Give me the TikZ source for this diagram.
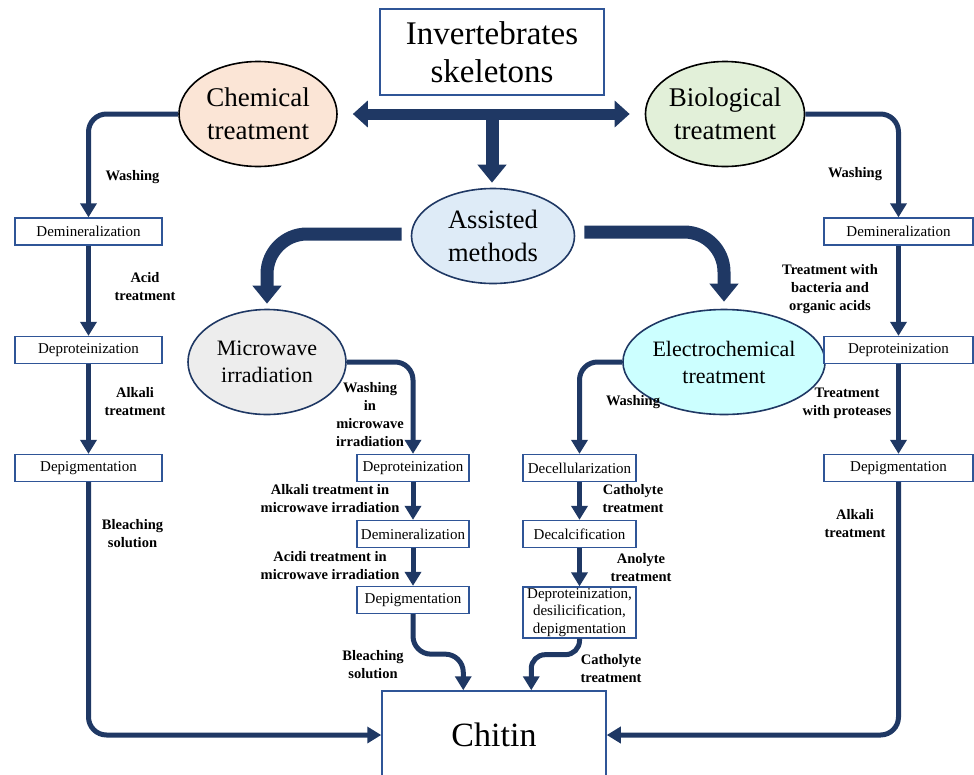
\documentclass[tikz,border=0pt]{standalone}
\usepackage{fontspec}
\setmainfont{Liberation Serif}
\usetikzlibrary{shapes.geometric,arrows.meta,positioning,calc}
\definecolor{navyline}{RGB}{31,56,100}
\definecolor{boxline}{RGB}{47,85,151}
\definecolor{chemfill}{RGB}{251,229,214}
\definecolor{biofill}{RGB}{226,240,217}
\definecolor{assistfill}{RGB}{222,235,247}
\definecolor{microfill}{RGB}{237,237,237}
\definecolor{electrofill}{RGB}{204,255,255}

\begin{document}
\begin{tikzpicture}[x=1pt, y=-1pt,
    oval/.style={ellipse, draw=navyline, line width=1.6pt, inner sep=0pt, align=center,
        minimum width=158pt, minimum height=105pt, font=\fontsize{27}{33}\selectfont},
    stepbox/.style={draw=boxline, line width=1.3pt, fill=white, inner sep=0pt, align=center,
        minimum height=27pt, font=\fontsize{15}{17.5}\selectfont},
    note/.style={font=\fontsize{14.5}{18}\selectfont\bfseries, align=center, inner sep=0pt},
    flow/.style={-{Triangle[length=14pt,width=16pt]}, line width=5pt, draw=navyline, rounded corners=18pt},
    bigflow/.style={-{Triangle[length=18pt,width=28pt]}, line width=13pt, draw=navyline, rounded corners=40pt}]
        \useasboundingbox (0,0) rectangle (974,774);

        % Source and main branches
        \node[draw=boxline, line width=1.5pt, minimum width=224pt, minimum height=86pt, align=center,
            font=\fontsize{33}{38}\selectfont] (skel) at (492,52) {Invertebrates\\skeletons};
        \node[oval, draw=black, fill=chemfill] (chem) at (258,114) {Chemical\\treatment};
        \node[oval, draw=black, fill=biofill] (bio) at (725,114) {Biological\\treatment};
        \node[oval, fill=assistfill, minimum width=163pt, minimum height=95pt, font=\fontsize{26.5}{33}\selectfont] (assist) at (493,236) {Assisted\\methods};
        \node[oval, fill=microfill, font=\fontsize{22}{27}\selectfont] (micro) at (267,362) {Microwave\\irradiation};
        \node[oval, fill=electrofill, font=\fontsize{22}{27}\selectfont] (electro) at (724,362) {Electrochemical\\treatment};

        % Product
        \node[draw=boxline, line width=1.5pt, minimum width=224pt, minimum height=88pt,
            font=\fontsize{34}{40}\selectfont] (chitin) at (494,735) {Chitin};

        % Chemical column
        \node[stepbox, minimum width=147pt] (ldemin) at (88.5,231.5) {Demineralization};
        \node[stepbox, minimum width=147pt] (ldeprot) at (88.5,350) {Deproteinization};
        \node[stepbox, minimum width=147pt] (ldepig) at (88.5,468) {Depigmentation};

        % Biological column
        \node[stepbox, minimum width=149pt] (rdemin) at (898.5,231.5) {Demineralization};
        \node[stepbox, minimum width=149pt] (rdeprot) at (898.5,350) {Deproteinization};
        \node[stepbox, minimum width=149pt] (rdepig) at (898.5,468) {Depigmentation};

        % Microwave column
        \node[stepbox, minimum width=112pt] (mdeprot) at (413,468) {Deproteinization};
        \node[stepbox, minimum width=112pt] (mdemin) at (413,534) {Demineralization};
        \node[stepbox, minimum width=112pt] (mdepig) at (413,600) {Depigmentation};

        % Electrochemical column
        \node[stepbox, minimum width=113pt] (edecell) at (579.5,468) {Decellularization};
        \node[stepbox, minimum width=113pt] (edecalc) at (579.5,534) {Decalcification};
        \node[stepbox, minimum width=113pt, minimum height=51pt] (edeprot) at (579.5,612.5) {Deproteinization,\\desilicification,\\depigmentation};

        % Thick arrows
        \draw[bigflow, {Triangle[length=15pt,width=26pt]}-{Triangle[length=15pt,width=26pt]}, line width=11pt,
            shorten <=15pt, shorten >=15pt] (chem.east) -- (bio.west);
        \draw[bigflow] ([yshift=-19pt]skel.south) -- ([yshift=5pt]skel.south |- assist.north);
        \draw[bigflow] ([xshift=-9pt,yshift=2pt]assist.west) -| ([yshift=5pt]micro.north);
        \draw[bigflow] ([xshift=9pt,yshift=4pt]assist.east) -| ([yshift=7pt]electro.north);

        % Chemical route
        \draw[flow] (chem.west) -| (ldemin.north);
        \draw[flow] (ldemin) -- (ldeprot);
        \draw[flow] (ldeprot) -- (ldepig);
        \draw[flow] (ldepig.south) |- (chitin.west);
        \node[note] (lwash) at (132.5,177) {Washing};
        \node[note] (lacid) at (145,287) {Acid\\treatment};
        \node[note] (lalk) at (135,402) {Alkali\\treatment};
        \node[note] (lbleach) at (132.5,534) {Bleaching\\solution};

        % Biological route
        \draw[flow] (bio.east) -| (rdemin.north);
        \draw[flow] (rdemin) -- (rdeprot);
        \draw[flow] (rdeprot) -- (rdepig);
        \draw[flow] (rdepig.south) |- (chitin.east);
        \node[note] (rwash) at (855,174) {Washing};
        \node[note] (rbact) at (830,289) {Treatment with\\bacteria and\\organic acids};
        \node[note] (rprot) at (847,403) {Treatment\\with proteases};
        \node[note] (ralk) at (855,524) {Alkali\\treatment};

        % Microwave route
        \draw[flow] (micro.east) -| (mdeprot.north);
        \draw[flow] (mdeprot) -- (mdemin);
        \draw[flow] (mdemin) -- (mdepig);
        \draw[flow] (mdepig.south) -- ++(0,40) -| ([xshift=82pt]chitin.north west);
        \node[note] (mwash) at (370,415) {Washing\\in\\microwave\\irradiation};
        \node[note] (malk) at (330,499) {Alkali treatment in\\microwave irradiation};
        \node[note] (macid) at (330,566) {Acidi treatment in\\microwave irradiation};
        \node[note] (mbleach) at (373,665) {Bleaching\\solution};

        % Electrochemical route
        \draw[flow] (electro.west) -| (edecell.north);
        \draw[flow] (edecell) -- (edecalc);
        \draw[flow] (edecalc) -- (edeprot);
        \draw[flow, rounded corners=14pt] (edeprot.south) -- ++(0,16) -| ([xshift=150pt]chitin.north west);
        \node[note] (ewash) at (633,402) {Washing};
        \node[note] (ecath) at (633,499) {Catholyte\\treatment};
        \node[note] (eano) at (641,568) {Anolyte\\treatment};
        \node[note] (ecath2) at (611,669) {Catholyte\\treatment};
    \end{tikzpicture}
\end{document}
